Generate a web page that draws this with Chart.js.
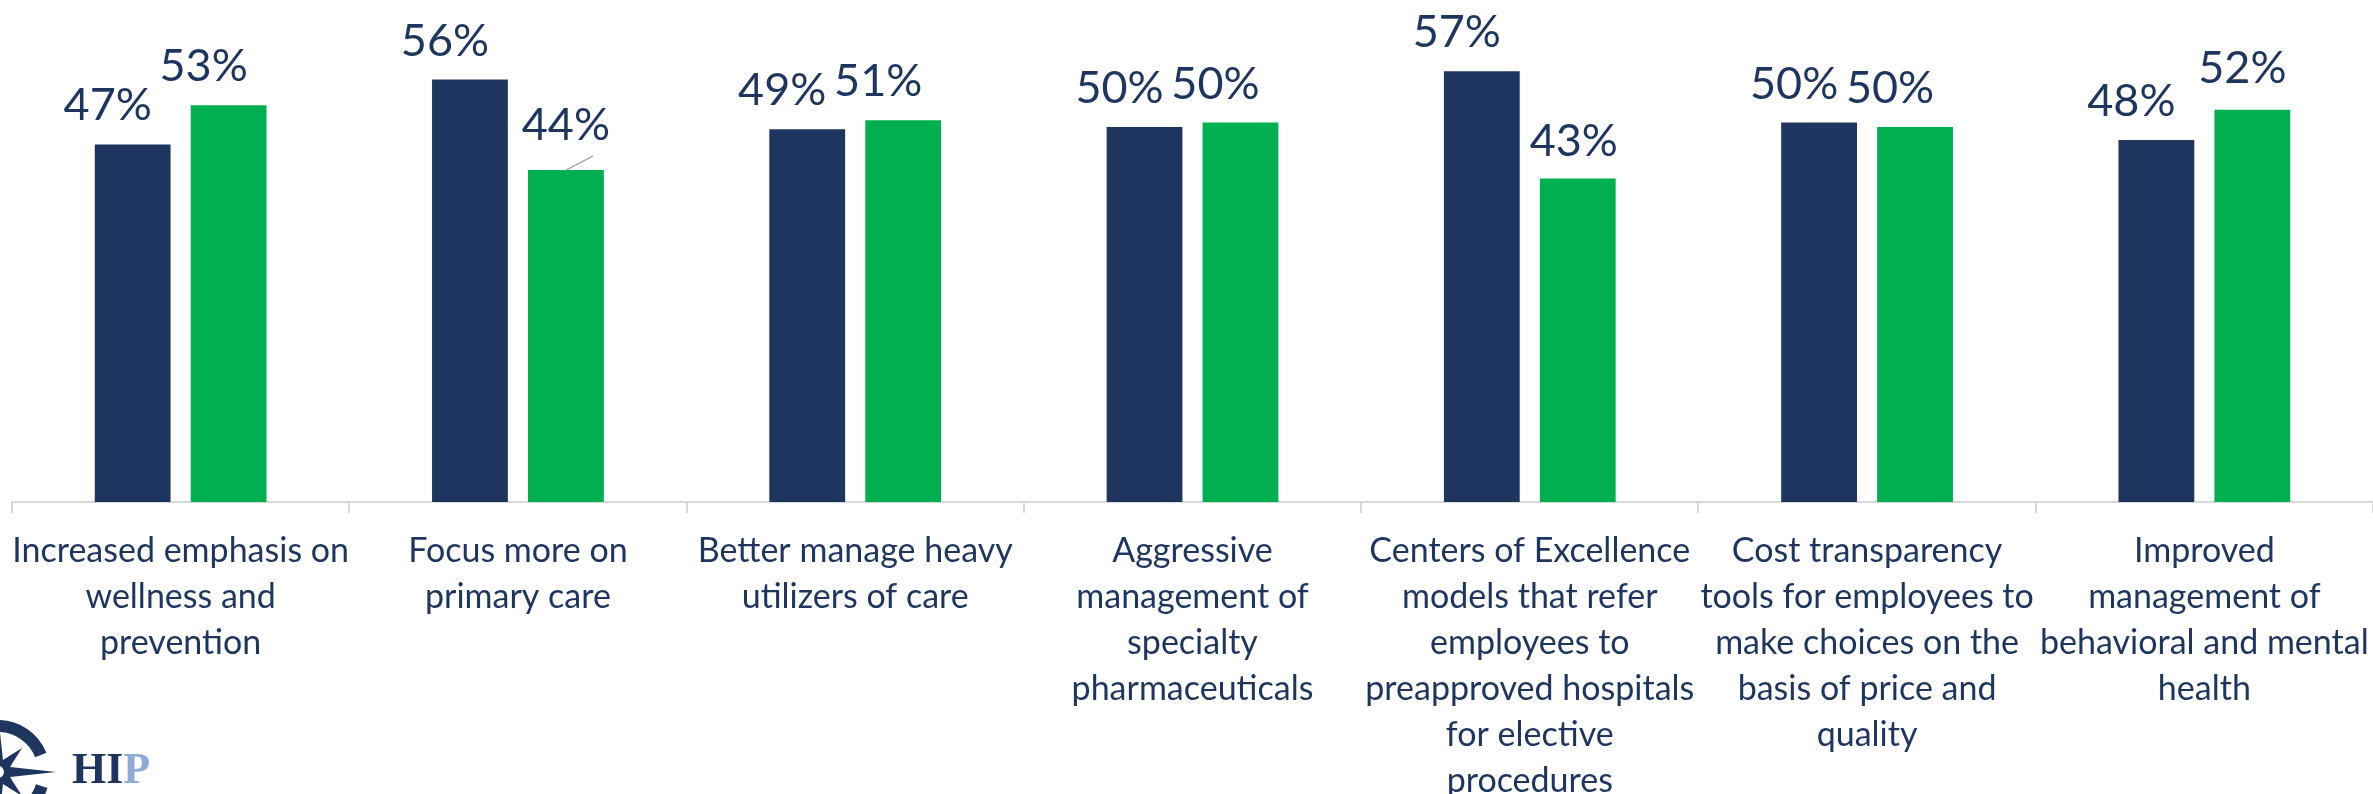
<!DOCTYPE html>
<html>
<head>
<meta charset="utf-8">
<script src="https://cdn.jsdelivr.net/npm/chart.js@4.4.1/dist/chart.umd.min.js"></script>
<style>
  html, body { margin: 0; padding: 0; background: #ffffff; }
  #wrap { position: relative; width: 2373px; height: 794px; }
</style>
</head>
<body>
<div id="wrap"><canvas id="myChart"></canvas></div>
<script>
// categories (multi-line, as wrapped in the original)
const categories = [
  ['Increased emphasis on', 'wellness and', 'prevention'],
  ['Focus more on', 'primary care'],
  ['Better manage heavy', 'utilizers of care'],
  ['Aggressive', 'management of', 'specialty', 'pharmaceuticals'],
  ['Centers of Excellence', 'models that refer', 'employees to', 'preapproved hospitals', 'for elective', 'procedures'],
  ['Cost transparency', 'tools for employees to', 'make choices on the', 'basis of price and', 'quality'],
  ['Improved', 'management of', 'behavioral and mental', 'health']
];

// two response series (percent)
const navySeries = [47.4, 56.0, 49.4, 49.7, 57.1, 50.3, 48.0];
const greenSeries = [52.6, 44.0, 50.6, 50.3, 42.9, 49.7, 52.0];

const NAVY = '#1d355f';
const GREEN = '#00b050';
const AXIS_GREY = '#d9d9d9';

// manual label nudges like in the source deck: "dataset:index" -> [dx, gap]
const labelNudge = {
  '1:1': [0, 30],
  '1:4': [-4, 22],
  '1:6': [-10, 27]
};

const barLabels = {
  id: 'barLabels',
  afterDatasetsDraw(chart) {
    const ctx = chart.ctx;
    ctx.save();
    ctx.font = '45px Lato';
    ctx.fillStyle = NAVY;
    ctx.textAlign = 'center';
    ctx.textBaseline = 'alphabetic';
    chart.data.datasets.forEach((ds, di) => {
      const meta = chart.getDatasetMeta(di);
      meta.data.forEach((bar, i) => {
        const nudge = labelNudge[di + ':' + i] || [-25, 24];
        const txt = Math.round(ds.data[i]) + '%';
        ctx.fillText(txt, bar.x + nudge[0], bar.y - nudge[1]);
        if (di === 1 && i === 1) {
          // leader line for the moved label
          ctx.strokeStyle = '#a6a6a6';
          ctx.lineWidth = 1.5;
          ctx.beginPath();
          ctx.moveTo(bar.x, bar.y);
          ctx.lineTo(bar.x + 27, bar.y - 14);
          ctx.stroke();
        }
      });
    });
    ctx.restore();
  }
};

// small HIP logo in the bottom-left corner
const logo = {
  id: 'logo',
  afterDraw(chart) {
    const ctx = chart.ctx;
    ctx.save();
    const cx = -2, cy = 772;
    ctx.strokeStyle = NAVY;
    ctx.lineWidth = 12;
    ctx.beginPath();
    ctx.arc(cx, cy, 46, -Math.PI * 0.5, -Math.PI * 0.12);
    ctx.stroke();
    ctx.beginPath();
    ctx.arc(cx, cy, 46, Math.PI * 0.1, Math.PI * 0.45);
    ctx.stroke();
    // star
    ctx.fillStyle = NAVY;
    ctx.beginPath();
    for (let k = 0; k < 16; k++) {
      const a = -Math.PI / 2 + k * Math.PI / 8;
      let r;
      if (k % 4 === 0) r = 58;
      else if (k % 2 === 0) r = 34;
      else r = 13;
      const px = cx + r * Math.cos(a), py = cy + r * Math.sin(a);
      if (k === 0) ctx.moveTo(px, py); else ctx.lineTo(px, py);
    }
    ctx.closePath();
    ctx.fill();
    ctx.fillStyle = '#ffffff';
    ctx.beginPath();
    ctx.arc(cx, cy, 6, 0, Math.PI * 2);
    ctx.fill();
    ctx.font = 'bold 44px "Liberation Serif"';
    ctx.textBaseline = 'alphabetic';
    ctx.textAlign = 'left';
    ctx.fillStyle = NAVY;
    ctx.fillText('HI', 72, 783);
    const w = ctx.measureText('HI').width;
    ctx.fillStyle = '#8eaadb';
    ctx.fillText('P', 72 + w, 783);
    ctx.restore();
  }
};

const data = {
  labels: categories,
  datasets: [
    { data: navySeries, backgroundColor: NAVY },
    { data: greenSeries, backgroundColor: GREEN }
  ]
};

const config = {
  type: 'bar',
  data: data,
  options: {
    responsive: true,
    maintainAspectRatio: false,
    animation: false,
    layout: { padding: { left: 12, right: 0, top: 0, bottom: 0 } },
    datasets: {
      bar: { categoryPercentage: 0.569, barPercentage: 0.79 }
    },
    plugins: {
      legend: { display: false },
      tooltip: { enabled: false }
    },
    scales: {
      x: {
        afterFit(scale) {
          scale.height = 292;
          // labels may overhang the edges, like in the original
          scale.paddingLeft = 0;
          scale.paddingRight = 0;
        },
        border: { display: true, color: AXIS_GREY, width: 2 },
        grid: {
          display: true,
          drawOnChartArea: false,
          drawTicks: true,
          tickLength: 11,
          color: AXIS_GREY,
          lineWidth: 2,
          offset: true
        },
        ticks: {
          autoSkip: false,
          maxRotation: 0,
          minRotation: 0,
          padding: 15,
          color: NAVY,
          font: { family: 'Lato', size: 34, lineHeight: '46px' }
        }
      },
      y: {
        display: false,
        min: 0,
        max: 66.55
      }
    }
  },
  plugins: [barLabels, logo]
};

const myChart = new Chart(document.getElementById('myChart').getContext('2d'), config);
</script>
</body>
</html>
